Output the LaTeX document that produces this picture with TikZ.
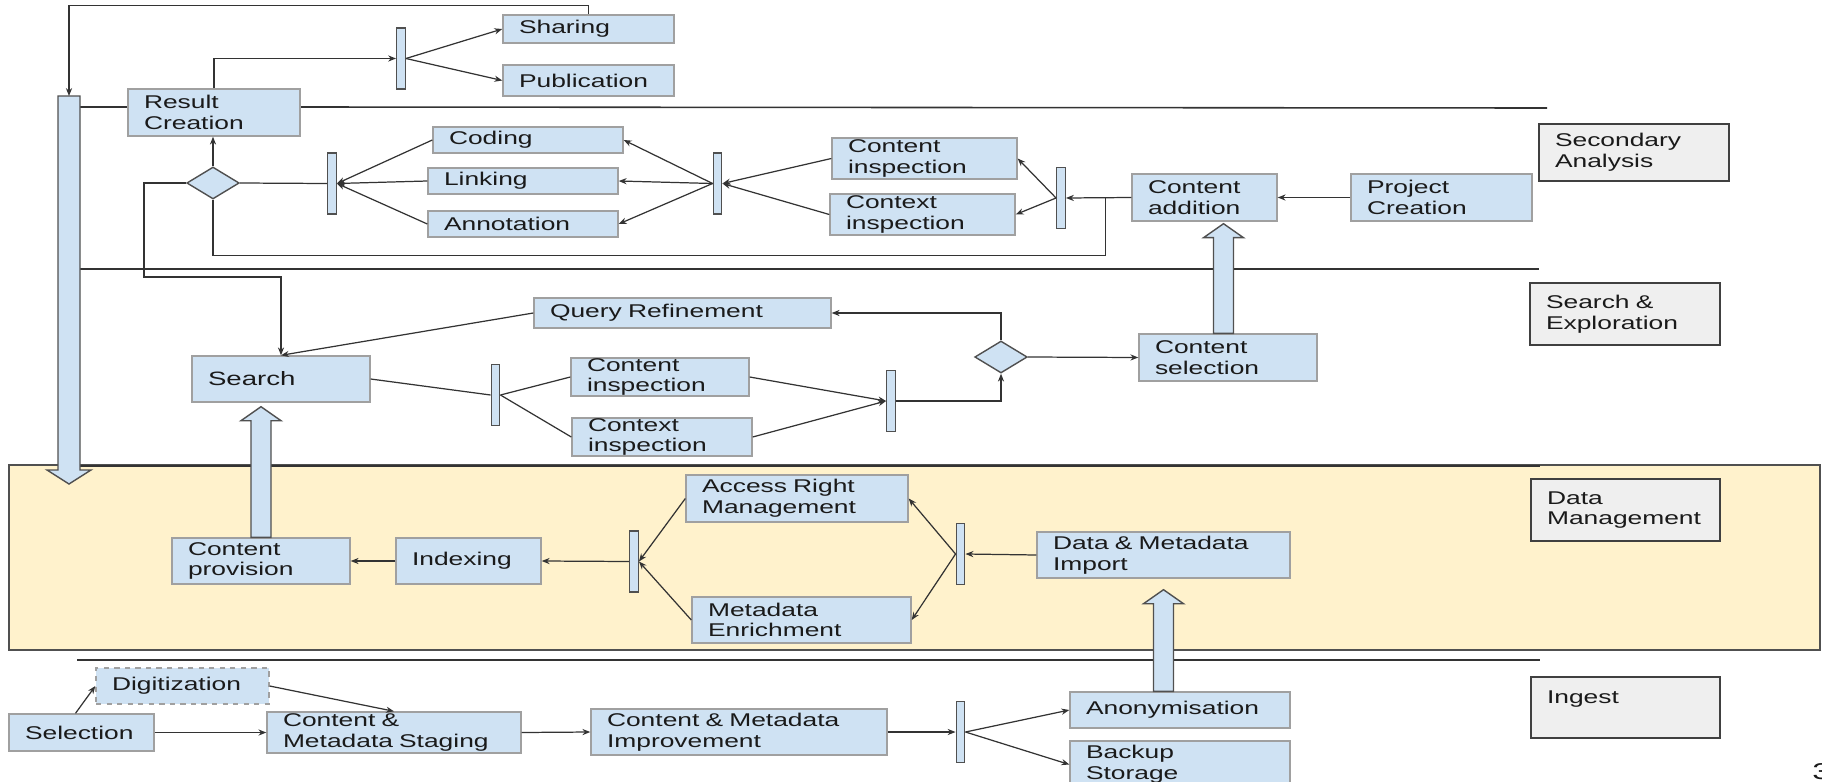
\documentclass[tikz,border=0pt]{standalone}
\usepackage{fontspec}
\setmainfont{Liberation Sans}[FakeStretch=1.43]
\usepackage{xcolor}
\usetikzlibrary{arrows.meta,calc,shapes.geometric}
\definecolor{boxfill}{HTML}{CFE2F3}
\definecolor{boxline}{HTML}{A0A0A0}
\definecolor{barline}{HTML}{505050}
\definecolor{lanefill}{HTML}{EFEFEF}
\definecolor{laneline}{HTML}{404040}
\definecolor{dmfill}{HTML}{FFF2CC}
\definecolor{wire}{HTML}{333333}
\definecolor{txt}{HTML}{1A1A1A}
\tikzset{
	act/.style={draw=boxline, fill=boxfill, line width=0.8pt, align=left, inner xsep=0.32cm, inner ysep=0pt,
			text=txt, font=\fontsize{10.5}{11.8}\selectfont},
	lanebox/.style={act, draw=laneline, fill=lanefill},
	forkbar/.style={draw=barline, fill=boxfill, line width=0.8pt, minimum width=0.17cm, minimum height=1.22cm, inner sep=0pt},
	decision/.style={diamond, draw=barline, fill=boxfill, line width=0.8pt, minimum width=1.05cm, minimum height=0.64cm, inner sep=0pt},
	flow/.style={draw=wire, line width=0.7pt, -{Stealth[length=4.5pt,width=3.5pt]}},
	wireline/.style={draw=wire, line width=0.7pt},
	fat/.style={draw=barline, fill=boxfill, line width=0.8pt},
	lane/.style={draw=wire, line width=0.9pt}
}
\newcommand{\fatarrow}[2]{\filldraw[fat] ($(#1)+(-10,0)$) -- ($(#2)+(-10,14)$) -- ($(#2)+(-20,14)$) -- (#2)
	-- ($(#2)+(20,14)$) -- ($(#2)+(10,14)$) -- ($(#1)+(10,0)$) -- cycle;}

\begin{document}
\begin{tikzpicture}[x=0.02cm, y=-0.02cm]
        \useasboundingbox (0,0) rectangle (1822,781);
        \clip (0,0) rectangle (1822,781);
        \filldraw[fill=dmfill, draw=barline, line width=0.8pt] (9,465) rectangle (1820,650);
        \draw[lane] (80,107) -- (128,107);
        \draw[lane] (300,107) -- (1547,108);
        \draw[lane] (80,269) -- (1539,269);
        \draw[lane] (80,466) -- (1540,466);
        \draw[lane] (77,660) -- (1540,660);
        \filldraw[fat] (58,96) -- (80,96) -- (80,470) -- (91,470) -- (69,484) -- (47,470) -- (58,470) -- cycle;
        \coordinate (flowtop) at (69,96);
        \node[act, text width=2.80cm, minimum height=0.94cm] (res) at (214,112.5) {Result\\Creation};
        \node[act, text width=2.78cm, minimum height=0.56cm] (share) at (588.5,29) {Sharing};
        \node[act, text width=2.78cm, minimum height=0.62cm] (pub) at (588.5,80.5) {Publication};
        \node[forkbar] (bar1) at (401,58.5) {};
        \node[decision] (dec1) at (213,183) {};
        \node[forkbar] (bar2) at (332,183.5) {};
        \node[act, text width=3.16cm, minimum height=0.52cm] (coding) at (528,140) {Coding};
        \node[act, text width=3.16cm, minimum height=0.52cm] (linking) at (523,181) {Linking};
        \node[act, text width=3.16cm, minimum height=0.52cm] (annot) at (523,224) {Annotation};
        \node[forkbar] (bar3) at (717.5,183.5) {};
        \node[act, text width=3.06cm, minimum height=0.82cm] (cinsp1) at (924.5,158.5) {Content\\inspection};
        \node[act, text width=3.06cm, minimum height=0.82cm] (xinsp1) at (922.5,214.5) {Context\\inspection};
        \node[forkbar] (bar4) at (1061,198) {};
        \node[act, text width=2.26cm, minimum height=0.94cm] (cadd) at (1204.5,197.5) {Content\\addition};
        \node[act, text width=2.98cm, minimum height=0.94cm] (proj) at (1441.5,197.5) {Project\\Creation};
        \node[lanebox, text width=3.16cm, minimum height=1.14cm] (lsa) at (1634,152.5) {Secondary\\Analysis};
        \node[act, text width=5.30cm, minimum height=0.60cm] (qref) at (682.5,313) {Query Refinement};
        \node[act, text width=2.92cm, minimum height=0.92cm, font=\fontsize{11}{12.5}\selectfont] (search) at (281,379) {Search};
        \node[forkbar] (bar5) at (495.5,395) {};
        \node[act, text width=2.92cm, minimum height=0.76cm] (cinsp2) at (660,377) {Content\\inspection};
        \node[act, text width=2.96cm, minimum height=0.76cm] (xinsp2) at (662,437) {Context\\inspection};
        \node[forkbar] (bar6) at (891,401) {};
        \node[decision] (dec2) at (1001,357) {};
        \node[act, text width=2.92cm, minimum height=0.94cm] (csel) at (1228,357.5) {Content\\selection};
        \node[lanebox, text width=3.16cm, minimum height=1.24cm] (lse) at (1625,314) {Search \&\\Exploration};
        \node[act, text width=2.92cm, minimum height=0.92cm] (cprov) at (261,561) {Content\\provision};
        \node[act, text width=2.26cm, minimum height=0.92cm] (index) at (468.5,561) {Indexing};
        \node[forkbar] (bar7) at (634,561.5) {};
        \node[act, text width=3.80cm, minimum height=0.94cm] (arm) at (797,498.5) {Access Right\\Management};
        \node[act, text width=3.74cm, minimum height=0.92cm] (menr) at (801.5,620) {Metadata\\Enrichment};
        \node[forkbar] (bar8) at (960.5,554) {};
        \node[act, text width=4.42cm, minimum height=0.92cm] (imp) at (1163.5,555) {Data \& Metadata\\Import};
        \node[lanebox, text width=3.14cm, minimum height=1.24cm] (ldm) at (1625.5,510) {Data\\Management};
        \node[act, dashed, text width=2.82cm, minimum height=0.72cm] (digi) at (182.5,686) {Digitization};
        \node[act, text width=2.26cm, minimum height=0.74cm] (sel) at (81.5,732.5) {Selection};
        \node[act, text width=4.44cm, minimum height=0.82cm] (stag) at (394,732.5) {Content \&\\Metadata Staging};
        \node[act, text width=5.28cm, minimum height=0.92cm] (impr) at (739,732) {Content \& Metadata\\Improvement};
        \node[forkbar] (bar9) at (960.5,732) {};
        \node[act, text width=3.76cm, minimum height=0.72cm] (anon) at (1180,710) {Anonymisation};
        \node[act, text width=3.76cm, minimum height=0.94cm] (backup) at (1180,764.5) {Backup\\Storage};
        \node[lanebox, text width=3.14cm, minimum height=1.22cm] (ling) at (1625.5,707.5) {Ingest\\\mbox{}};
        \node[anchor=base west, inner sep=0pt, text=txt, font=\fontsize{13}{15}\selectfont] (pgno) at (1812,779) {3};
        \draw[flow] (res.north) |- (bar1.west);
        \draw[flow] (bar1.east) -- (share.west);
        \draw[flow] (bar1.east) -- (pub.west);
        \draw[flow] (share.north) -- ++(0,-9) -| (flowtop);
        \draw[flow] (dec1.north) -- (dec1.north |- res.south);
        \draw[wireline] (dec1.east) -- (bar2.west);
        \foreach \t in {coding,linking,annot} \draw[flow] (\t.west) -- (bar2.east);
        \foreach \t in {coding,linking,annot} \draw[flow] (bar3.west) -- (\t.east);
        \draw[flow] (cinsp1.west) -- (bar3.east);
        \draw[flow] (xinsp1.west) -- (bar3.east);
        \draw[flow] (bar4.west) -- (cinsp1.east);
        \draw[flow] (bar4.west) -- (xinsp1.east);
        \draw[flow] (cadd.west) -- (bar4.east);
        \draw[flow] (proj.west) -- (cadd.east);
        \coordinate (joint) at ($(cadd.west)+(-26,0)$);
        \draw[wireline] (dec1.south) |- ($(joint)+(0,58)$) -- (joint);
        \draw[flow] (dec1.west) -| ($(dec1.west)+(-42,94)$) -| (search.north);
        \draw[flow] (qref.west) -- (search.north);
        \draw[wireline] (search.east) -- (bar5.west);
        \draw[wireline] (bar5.east) -- (cinsp2.west);
        \draw[wireline] (bar5.east) -- (xinsp2.west);
        \draw[flow] (cinsp2.east) -- (bar6.west);
        \draw[flow] (xinsp2.east) -- (bar6.west);
        \draw[flow] (bar6.east) -| (dec2.south);
        \draw[flow] (dec2.north) |- (qref.east);
        \draw[flow] (dec2.east) -- (csel.west);
        \draw[flow] (index.west) -- (cprov.east);
        \draw[flow] (bar7.west) -- (index.east);
        \draw[flow] (arm.west) -- (bar7.east);
        \draw[flow] (menr.west) -- (bar7.east);
        \draw[flow] (bar8.west) -- (arm.east);
        \draw[flow] (bar8.west) -- (menr.east);
        \draw[flow] (imp.west) -- (bar8.east);
        \draw[flow] ($(sel.north)+(-6,0)$) -- (digi.west);
        \draw[flow] (sel.east) -- (stag.west);
        \draw[flow] (digi.east) -- (stag.north);
        \draw[flow] (stag.east) -- (impr.west);
        \draw[flow] (impr.east) -- (bar9.west);
        \draw[flow] (bar9.east) -- (anon.west);
        \draw[flow] (bar9.east) -- (backup.west);
        \coordinate (tipA) at (cprov.north |- search.south);
        \fatarrow{cprov.north}{$(tipA)+(0,4)$}
        \coordinate (baseB) at ($(csel.north)+(-4.5,0)$);
        \coordinate (tipB) at (baseB |- cadd.south);
        \fatarrow{baseB}{$(tipB)+(0,2)$}
        \coordinate (baseC) at (imp.south |- anon.north);
        \fatarrow{baseC}{$(imp.south)+(0,11)$}
    \end{tikzpicture}
\end{document}
